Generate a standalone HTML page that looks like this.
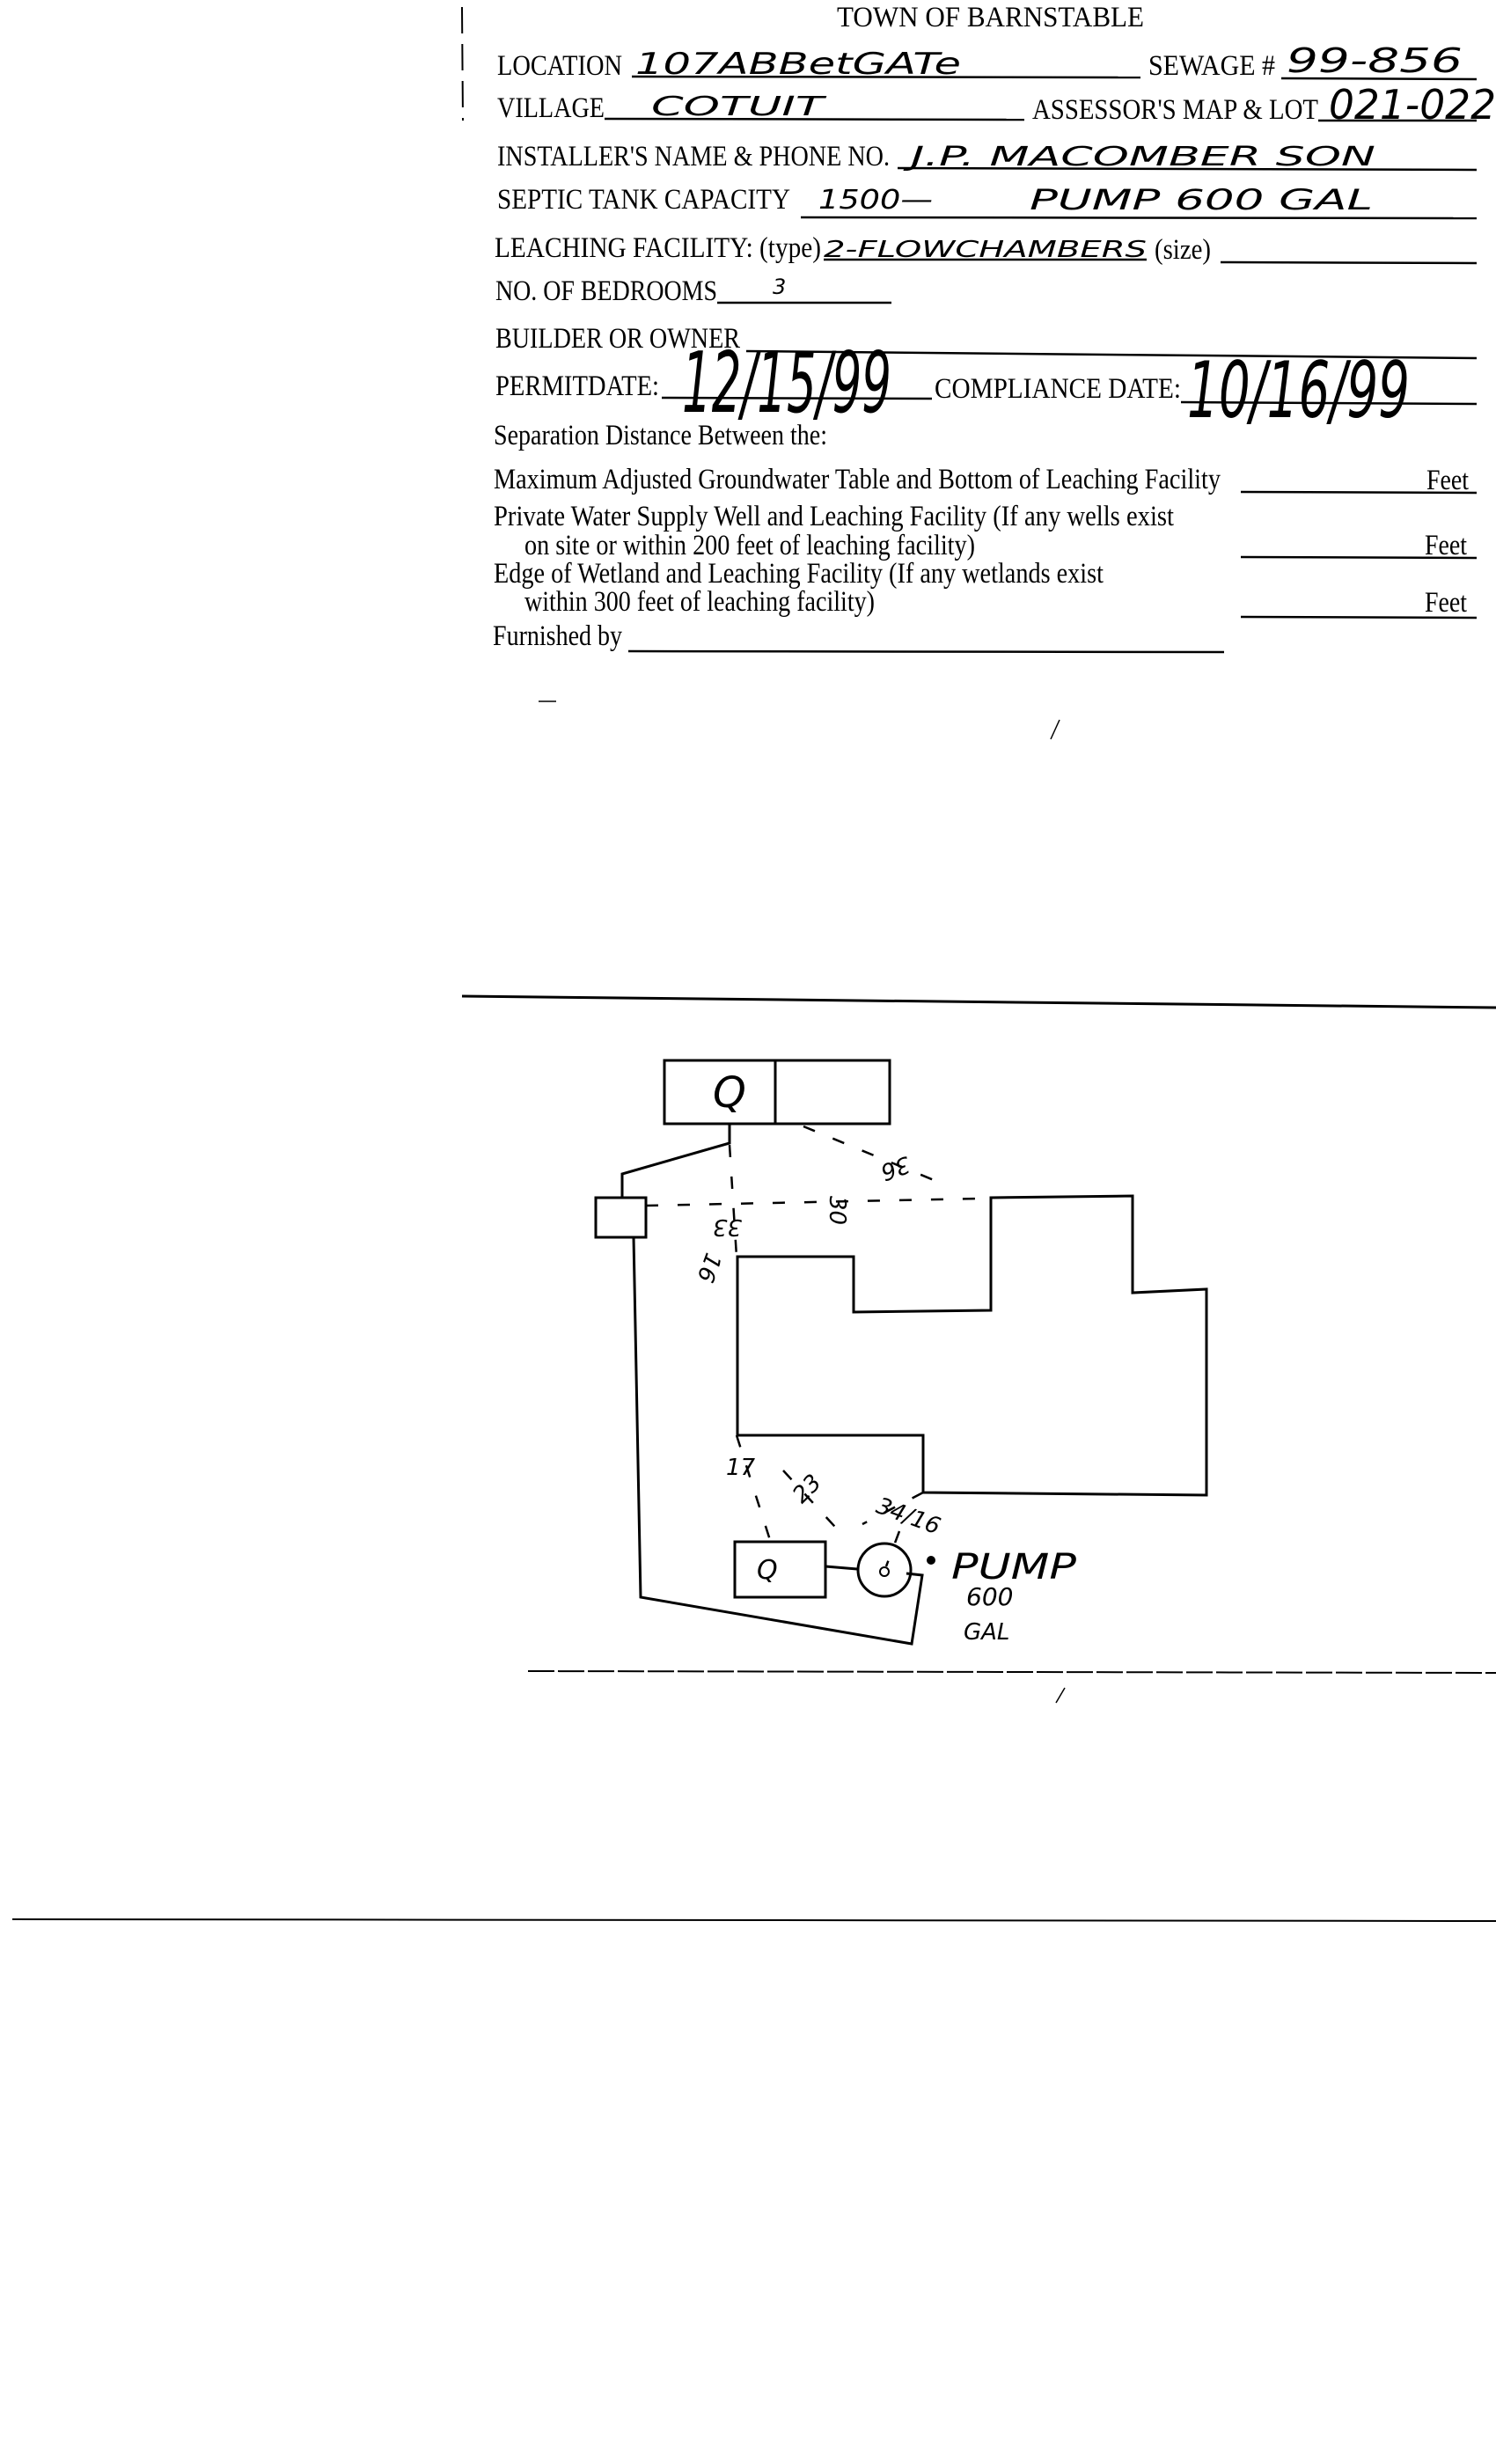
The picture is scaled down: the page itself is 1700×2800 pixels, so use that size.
<!DOCTYPE html>
<html><head><meta charset="utf-8"><style>
html,body{margin:0;padding:0;background:#fff;}
svg{display:block;}
.f{font-family:"Liberation Serif",serif;fill:#000;}
.h{font-family:"DejaVu Sans",sans-serif;font-style:italic;fill:#000;font-weight:300;}
</style></head><body>
<svg width="1700" height="2800" viewBox="0 0 1700 2800" xmlns="http://www.w3.org/2000/svg">
<rect width="1700" height="2800" fill="#fff"/>
<g stroke="#000" stroke-width="2" fill="none">
<line x1="525" y1="8" x2="526" y2="137" stroke-dasharray="30,12"/>
</g>
<g class="f" font-size="33">
<text x="951" y="30" textLength="349" lengthAdjust="spacingAndGlyphs">TOWN OF BARNSTABLE</text>
<text x="565" y="85" textLength="142" lengthAdjust="spacingAndGlyphs">LOCATION</text>
<text x="1305" y="85" textLength="144" lengthAdjust="spacingAndGlyphs">SEWAGE #</text>
<text x="565" y="133" textLength="122" lengthAdjust="spacingAndGlyphs">VILLAGE</text>
<text x="1173" y="135" textLength="325" lengthAdjust="spacingAndGlyphs">ASSESSOR'S MAP &amp; LOT</text>
<text x="565" y="188" textLength="446" lengthAdjust="spacingAndGlyphs">INSTALLER'S NAME &amp; PHONE NO.</text>
<text x="565" y="237" textLength="333" lengthAdjust="spacingAndGlyphs">SEPTIC TANK CAPACITY</text>
<text x="562" y="292" textLength="371" lengthAdjust="spacingAndGlyphs">LEACHING FACILITY: (type)</text>
<text x="1312" y="294" textLength="64" lengthAdjust="spacingAndGlyphs">(size)</text>
<text x="563" y="341" textLength="252" lengthAdjust="spacingAndGlyphs">NO. OF BEDROOMS</text>
<text x="563" y="395" textLength="278" lengthAdjust="spacingAndGlyphs">BUILDER OR OWNER</text>
<text x="563" y="449" textLength="186" lengthAdjust="spacingAndGlyphs">PERMITDATE:</text>
<text x="1062" y="452" textLength="280" lengthAdjust="spacingAndGlyphs">COMPLIANCE DATE:</text>
<text x="561" y="505" textLength="379" lengthAdjust="spacingAndGlyphs">Separation Distance Between the:</text>
<text x="561" y="555" textLength="826" lengthAdjust="spacingAndGlyphs">Maximum Adjusted Groundwater Table and Bottom of Leaching Facility</text>
<text x="1621" y="556" textLength="48" lengthAdjust="spacingAndGlyphs">Feet</text>
<text x="561" y="597" textLength="773" lengthAdjust="spacingAndGlyphs">Private Water Supply Well and Leaching Facility  (If any wells exist</text>
<text x="596" y="630" textLength="512" lengthAdjust="spacingAndGlyphs">on site or within 200 feet of leaching facility)</text>
<text x="1619" y="630" textLength="48" lengthAdjust="spacingAndGlyphs">Feet</text>
<text x="561" y="662" textLength="693" lengthAdjust="spacingAndGlyphs">Edge of Wetland and Leaching Facility (If any wetlands exist</text>
<text x="596" y="694" textLength="398" lengthAdjust="spacingAndGlyphs">within 300 feet of leaching facility)</text>
<text x="1619" y="695" textLength="48" lengthAdjust="spacingAndGlyphs">Feet</text>
<text x="560" y="733" textLength="147" lengthAdjust="spacingAndGlyphs">Furnished by</text>
</g>
<g stroke="#000" stroke-width="2.5" fill="none">
<line x1="718" y1="87" x2="1296" y2="88"/>
<line x1="1456" y1="89" x2="1678" y2="90"/>
<line x1="687" y1="135" x2="1164" y2="136"/>
<line x1="1498" y1="137" x2="1678" y2="137"/>
<line x1="1020" y1="191" x2="1678" y2="193"/>
<line x1="910" y1="247" x2="1678" y2="248"/>
<line x1="936" y1="295" x2="1303" y2="295"/>
<line x1="1387" y1="298" x2="1678" y2="299"/>
<line x1="815" y1="344" x2="1013" y2="344"/>
<line x1="848" y1="399" x2="1678" y2="407"/>
<line x1="752" y1="452" x2="1059" y2="453"/>
<line x1="1342" y1="457" x2="1678" y2="459"/>
<line x1="1410" y1="559" x2="1678" y2="560"/>
<line x1="1410" y1="633" x2="1678" y2="634"/>
<line x1="1410" y1="701" x2="1678" y2="702"/>
<line x1="714" y1="740" x2="1391" y2="741"/>
<line x1="612" y1="797" x2="632" y2="797" stroke-width="1.5"/>
<line x1="1204" y1="818" x2="1194" y2="840" stroke-width="1.5"/>
</g>
<g class="h">
<text x="722" y="84" font-size="34" textLength="370" lengthAdjust="spacingAndGlyphs">107ABBetGATe</text>
<text x="1462" y="82" font-size="38" textLength="200" lengthAdjust="spacingAndGlyphs">99-856</text>
<text x="740" y="131" font-size="30" textLength="196" lengthAdjust="spacingAndGlyphs">COTUIT</text>
<text x="1510" y="135" font-size="46" textLength="190" lengthAdjust="spacingAndGlyphs">021-022</text>
<text x="1035" y="188" font-size="30" textLength="528" lengthAdjust="spacingAndGlyphs">J.P. MACOMBER SON</text>
<text x="930" y="237" font-size="30" textLength="130" lengthAdjust="spacingAndGlyphs">1500—</text>
<text x="1170" y="238" font-size="32" textLength="390" lengthAdjust="spacingAndGlyphs">PUMP  600 GAL</text>
<text x="936" y="292" font-size="26" textLength="367" lengthAdjust="spacingAndGlyphs">2-FLOWCHAMBERS</text>
<text x="878" y="334" font-size="24">3</text>
<text x="775" y="468" font-size="95" textLength="238" lengthAdjust="spacingAndGlyphs">12/15/99</text>
<text x="1349" y="474" font-size="88" textLength="253" lengthAdjust="spacingAndGlyphs">10/16/99</text>
</g>
<g stroke="#000" stroke-width="3" fill="none">
<line x1="525" y1="1132" x2="1700" y2="1145"/>
<rect x="755" y="1205" width="256" height="72"/>
<line x1="881" y1="1205" x2="881" y2="1277"/>
<polyline points="829,1277 829,1299 707,1334 707,1361"/>
<rect x="677" y="1361" width="57" height="45"/>
<polyline points="720,1406 728,1815 1036,1868 1048,1790 1030,1788"/>
<polygon points="838,1428 970,1428 970,1491 1126,1489 1126,1361 1287,1359 1287,1469 1371,1465 1371,1699 1049,1696 1049,1631 838,1631"/>
<rect x="835" y="1752" width="103" height="63"/>
<line x1="938" y1="1780" x2="974" y2="1783"/>
<circle cx="1005" cy="1784" r="30"/>
<line x1="14" y1="2181" x2="1700" y2="2183" stroke-width="2"/>
<line x1="600" y1="1899" x2="1700" y2="1901" stroke-width="2" stroke-dasharray="30,4"/>
<line x1="1210" y1="1918" x2="1200" y2="1935" stroke-width="1.5"/>
</g>
<g stroke="#000" stroke-width="2.5" fill="none" stroke-dasharray="14,22">
<line x1="734" y1="1370" x2="1112" y2="1362"/>
<line x1="829" y1="1301" x2="837" y2="1428"/>
<line x1="913" y1="1280" x2="1066" y2="1343"/>
<line x1="837" y1="1631" x2="875" y2="1750"/>
<line x1="890" y1="1671" x2="959" y2="1746"/>
<line x1="1049" y1="1696" x2="980" y2="1732"/>
<line x1="1022" y1="1740" x2="1007" y2="1780"/>
</g>
<g class="h" font-size="26">
<text x="815" y="1402" transform="rotate(180 829 1394)">33</text>
<text x="938" y="1380" transform="rotate(90 951 1372)">30</text>
<text x="1006" y="1336" transform="rotate(160 1020 1327)">36</text>
<text x="792" y="1446" transform="rotate(110 806 1438)">16</text>
<text x="825" y="1676">17</text>
<text x="902" y="1701" transform="rotate(-45 917 1694)">23</text>
<text x="995" y="1727" transform="rotate(20 1020 1720)">34/16</text>
<text x="1081" y="1794" font-size="40" textLength="142" lengthAdjust="spacingAndGlyphs">PUMP</text>
<text x="1098" y="1824" font-size="28">600</text>
<text x="1095" y="1863" font-size="26">GAL</text>
<text x="860" y="1794" font-size="30">Q</text>
<text x="810" y="1258" font-size="48">Q</text>
</g>
<circle cx="1005" cy="1786" r="5" fill="none" stroke="#000" stroke-width="2"/>
<circle cx="1058" cy="1773" r="5" fill="#000"/>
</svg>
</body></html>
